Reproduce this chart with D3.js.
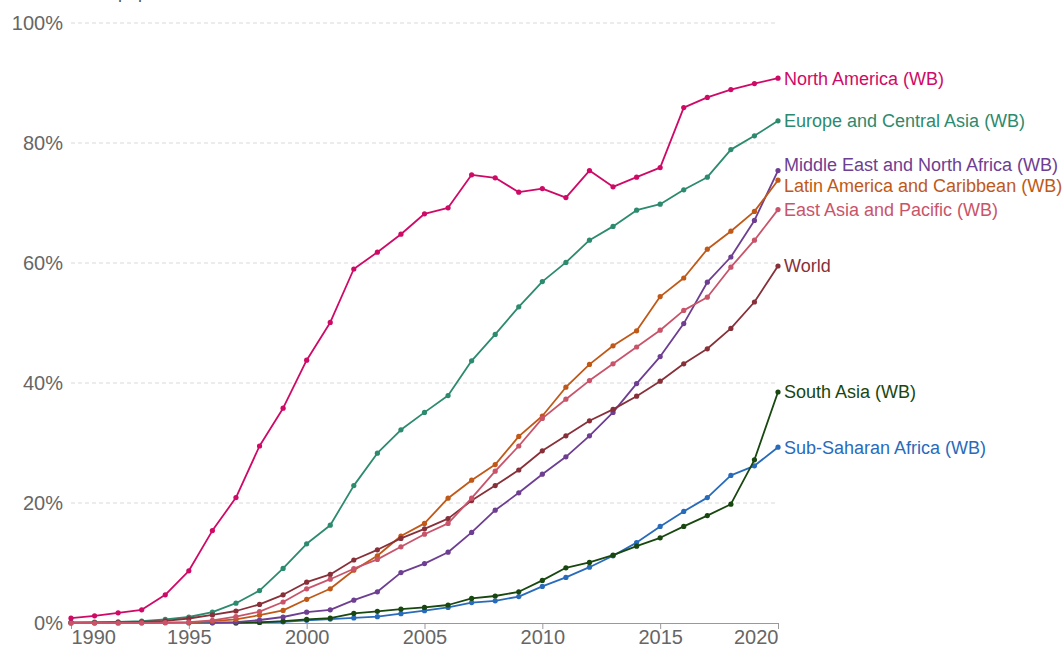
<!DOCTYPE html>
<html>
<head>
<meta charset="utf-8">
<script src="https://cdn.jsdelivr.net/npm/d3@7"></script>
<style>
  body { margin: 0; background: #fff; }
  svg { display: block; font-family: "Liberation Sans", Arial, sans-serif; }
</style>
</head>
<body>
<div class="canvas"></div>
<script>
const dims = { width: 1062, height: 652 };
const margin = { top: 23, right: 284, bottom: 29, left: 71 };

// years on the x axis
const years = [1990, 1991, 1992, 1993, 1994, 1995, 1996, 1997, 1998, 1999,
  2000, 2001, 2002, 2003, 2004, 2005, 2006, 2007, 2008, 2009,
  2010, 2011, 2012, 2013, 2014, 2015, 2016, 2017, 2018, 2019, 2020];

const xTicks = [1990, 1995, 2000, 2005, 2010, 2015, 2020];
const yTicks = [0, 20, 40, 60, 80, 100];

// share of population using the internet, % (null = no data)
const northAmerica = [0.8, 1.2, 1.7, 2.2, 4.7, 8.7, 15.4, 20.9, 29.5, 35.8,
  43.8, 50.1, 59.0, 61.8, 64.8, 68.2, 69.2, 74.7, 74.2, 71.8,
  72.4, 70.9, 75.4, 72.7, 74.3, 75.9, 85.9, 87.6, 88.9, 89.9, 90.8];
const europeCentralAsia = [0.1, 0.15, 0.2, 0.3, 0.6, 1.0, 1.8, 3.3, 5.4, 9.1,
  13.2, 16.3, 22.9, 28.3, 32.2, 35.1, 37.9, 43.7, 48.1, 52.7,
  56.9, 60.1, 63.8, 66.1, 68.8, 69.8, 72.2, 74.3, 78.9, 81.2, 83.7];
const middleEastNorthAfrica = [null, null, null, null, null, null, 0.05, 0.15, 0.5, 1.0,
  1.8, 2.2, 3.8, 5.2, 8.4, 9.9, 11.8, 15.1, 18.8, 21.7,
  24.8, 27.7, 31.2, 35.1, 39.9, 44.4, 49.9, 56.8, 61.0, 67.1, 75.4];
const latinAmerica = [0, 0, 0.01, 0.03, 0.06, 0.1, 0.3, 0.6, 1.3, 2.1,
  3.95, 5.7, 8.8, 11.2, 14.5, 16.6, 20.8, 23.8, 26.4, 31.1,
  34.5, 39.3, 43.1, 46.2, 48.7, 54.4, 57.5, 62.3, 65.3, 68.6, 73.8];
const eastAsiaPacific = [0, 0, 0, 0.01, 0.05, 0.15, 0.45, 1.05, 1.9, 3.5,
  5.7, 7.3, 9.05, 10.6, 12.7, 14.8, 16.6, 20.8, 25.3, 29.5,
  34.1, 37.3, 40.4, 43.2, 46.0, 48.8, 52.1, 54.3, 59.3, 63.8, 68.9];
const world = [0.05, 0.07, 0.1, 0.2, 0.35, 0.75, 1.35, 2.0, 3.1, 4.7,
  6.8, 8.1, 10.5, 12.2, 14.1, 15.7, 17.4, 20.4, 22.9, 25.5,
  28.7, 31.2, 33.7, 35.6, 37.8, 40.3, 43.2, 45.7, 49.1, 53.5, 59.5];
const southAsia = [null, null, null, null, null, null, null, 0.02, 0.1, 0.3,
  0.6, 0.8, 1.6, 1.95, 2.3, 2.6, 3.0, 4.1, 4.5, 5.2,
  7.1, 9.2, 10.1, 11.3, 12.8, 14.2, 16.1, 17.9, 19.8, 27.2, 38.5];
const subSaharanAfrica = [null, null, null, null, null, 0.01, 0.03, 0.06, 0.1, 0.2,
  0.45, 0.65, 0.85, 1.05, 1.55, 2.05, 2.6, 3.4, 3.7, 4.4,
  6.1, 7.6, 9.3, 11.2, 13.4, 16.1, 18.6, 20.9, 24.6, 26.2, 29.3];

const seriesNames = ['Sub-Saharan Africa (WB)', 'South Asia (WB)', 'Middle East and North Africa (WB)',
  'Latin America and Caribbean (WB)', 'Europe and Central Asia (WB)', 'World',
  'East Asia and Pacific (WB)', 'North America (WB)'];
const seriesValues = [subSaharanAfrica, southAsia, middleEastNorthAfrica,
  latinAmerica, europeCentralAsia, world, eastAsiaPacific, northAmerica];
const seriesColors = ['#286BBB', '#18470F', '#6D3E91', '#C05917', '#2C8A6E', '#883039', '#C9546A', '#CF0A66'];

const series = seriesNames.map((name, i) => ({
  name,
  color: seriesColors[i],
  points: years.map((year, j) => ({ year, value: seriesValues[i][j] }))
    .filter(d => d.value !== null)
}));

const svg = d3.select('.canvas')
  .append('svg')
  .attr('width', dims.width)
  .attr('height', dims.height);

const x = d3.scaleLinear()
  .domain([1990, 2020])
  .range([margin.left, dims.width - margin.right]);

const y = d3.scaleLinear()
  .domain([0, 100])
  .range([dims.height - margin.bottom, margin.top]);

// axis title, mostly above the frame like in the original
svg.append('text')
  .attr('x', 77)
  .attr('y', -2)
  .attr('fill', '#555')
  .attr('font-size', 18)
  .text('% of population');

// gridlines + y labels
const grid = svg.append('g');
grid.selectAll('line')
  .data(yTicks.filter(d => d > 0))
  .enter()
  .append('line')
  .attr('x1', x(1990))
  .attr('x2', x(2020))
  .attr('y1', d => y(d))
  .attr('y2', d => y(d))
  .attr('stroke', '#d9d9d9')
  .attr('stroke-dasharray', '4,3');

grid.selectAll('text')
  .data(yTicks)
  .enter()
  .append('text')
  .attr('x', 63)
  .attr('y', d => y(d))
  .attr('dy', '0.35em')
  .attr('text-anchor', 'end')
  .attr('fill', '#666')
  .attr('font-size', 20)
  .text(d => d + '%');

// x axis
const xAxis = svg.append('g')
  .attr('transform', `translate(0, ${y(0)})`)
  .call(d3.axisBottom(x).tickValues(xTicks).tickFormat(d3.format('d')).tickSize(6).tickSizeOuter(0));

xAxis.select('.domain').attr('stroke', '#999');
xAxis.selectAll('.tick line').attr('stroke', '#999');
xAxis.selectAll('.tick text')
  .attr('fill', '#666')
  .attr('font-size', 20)
  .attr('font-family', '"Liberation Sans", Arial, sans-serif')
  .attr('y', 7)
  .attr('text-anchor', (d, i) => i === 0 ? 'start' : i === xTicks.length - 1 ? 'end' : 'middle');

// lines
const line = d3.line()
  .x(d => x(d.year))
  .y(d => y(d.value));

const groups = svg.selectAll('.series')
  .data(series)
  .enter()
  .append('g')
  .attr('class', 'series');

groups.append('path')
  .attr('fill', 'none')
  .attr('stroke', d => d.color)
  .attr('stroke-width', 1.8)
  .attr('stroke-linejoin', 'round')
  .attr('d', d => line(d.points));

groups.selectAll('circle')
  .data(d => d.points.map(p => ({ ...p, color: d.color })))
  .enter()
  .append('circle')
  .attr('cx', d => x(d.year))
  .attr('cy', d => y(d.value))
  .attr('r', 2.6)
  .attr('fill', d => d.color);

// end labels, pushed apart so they don't overlap
const labels = series.map(s => {
  const last = s.points[s.points.length - 1];
  return { name: s.name, color: s.color, ty: y(last.value) };
}).sort((a, b) => a.ty - b.ty);

const gap = 21;
for (let iter = 0; iter < 50; iter++) {
  for (let i = 1; i < labels.length; i++) {
    const diff = labels[i].ty - labels[i - 1].ty;
    if (diff < gap) {
      const shift = (gap - diff) / 2;
      labels[i].ty += shift;
      labels[i - 1].ty -= shift;
    }
  }
}

svg.selectAll('.label')
  .data(labels)
  .enter()
  .append('text')
  .attr('class', 'label')
  .attr('x', x(2020) + 6)
  .attr('y', d => d.ty)
  .attr('dy', '0.35em')
  .attr('fill', d => d.color)
  .attr('font-size', 18)
  .text(d => d.name);
</script>
</body>
</html>
